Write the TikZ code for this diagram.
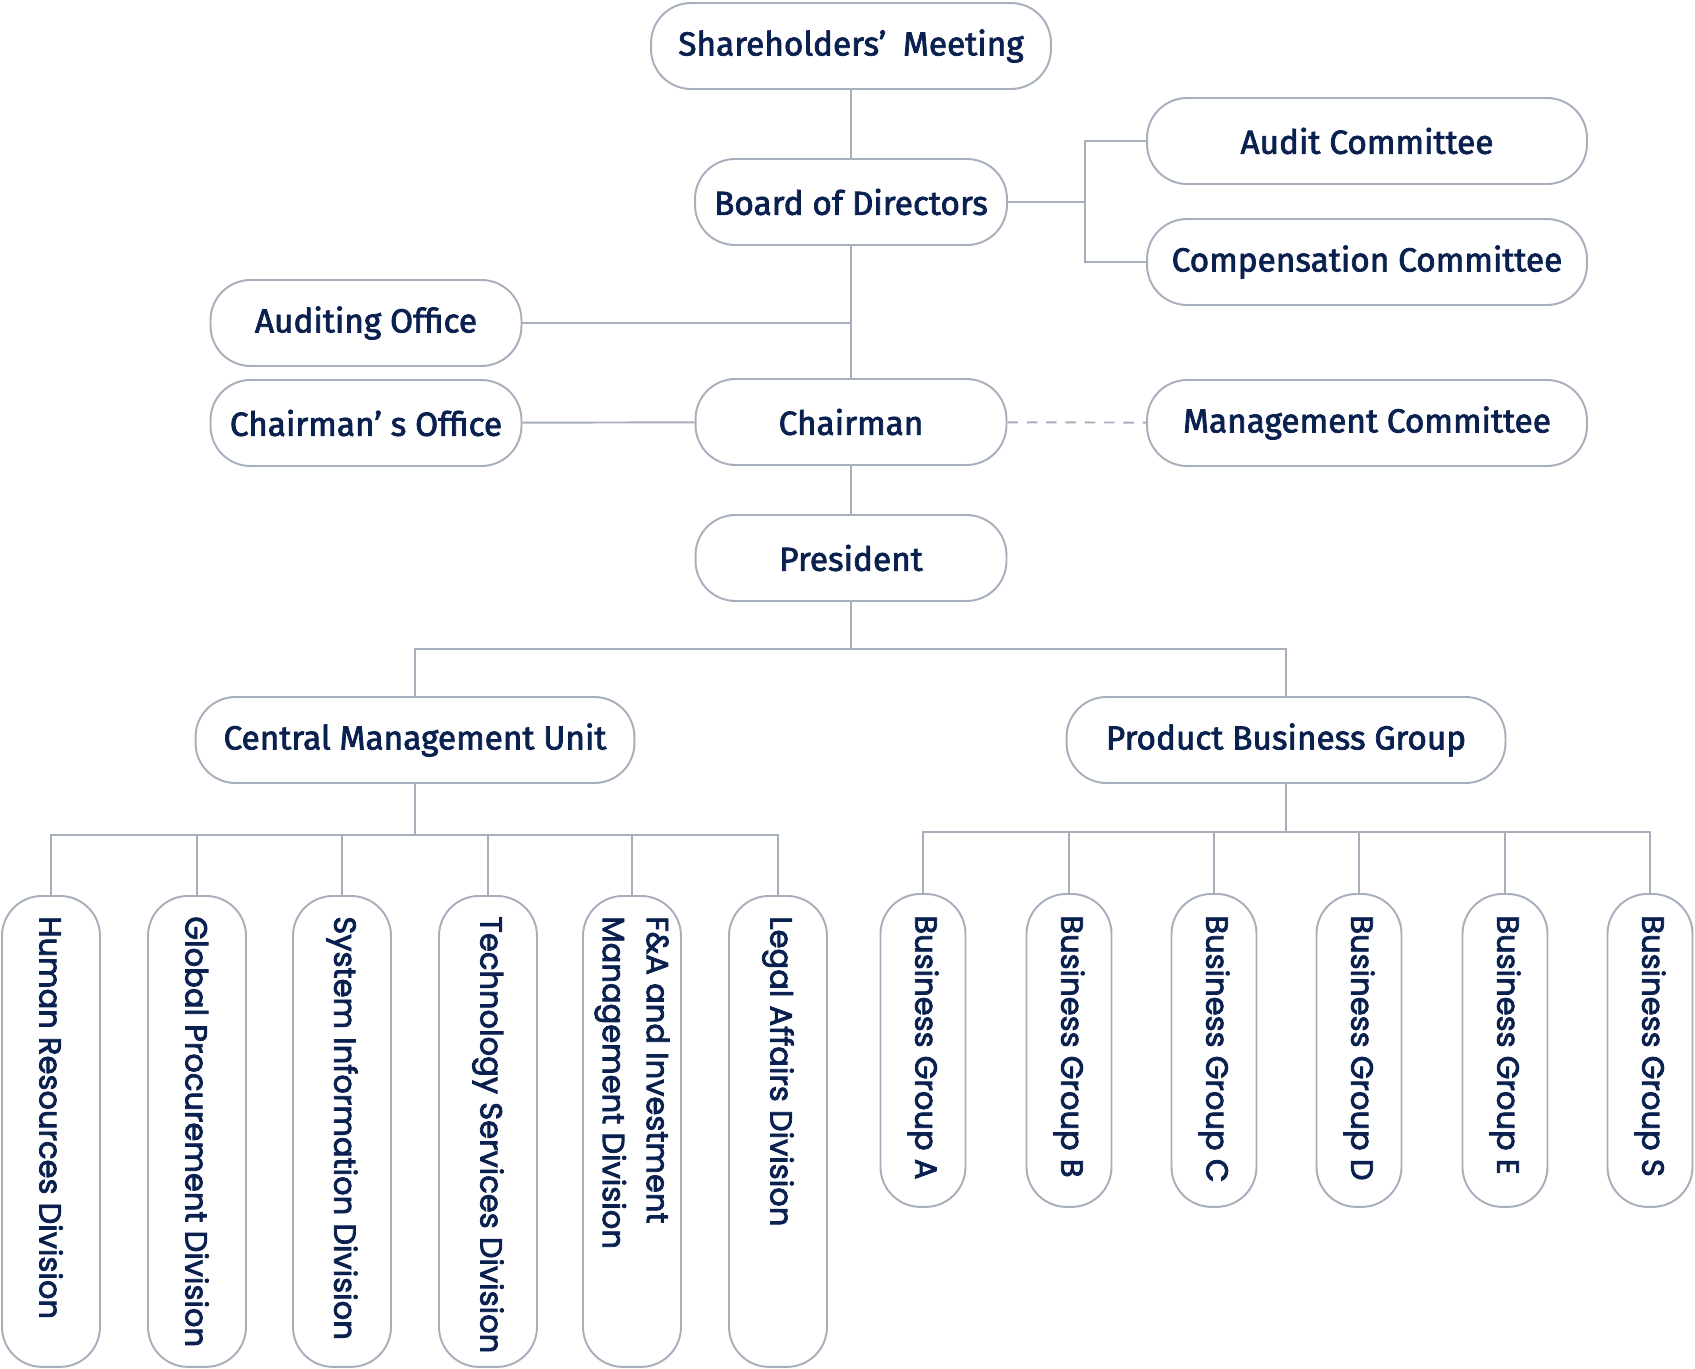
\documentclass[tikz,border=0pt]{standalone}
\usepackage{fontspec}
\setmainfont{Fira Sans}[FakeBold=2.2]
\newfontfamily\vertfont{Poppins}[FakeBold=2.6]
\usetikzlibrary{positioning}
\usetikzlibrary{calc}
\definecolor{navy}{HTML}{0A2150}
\definecolor{linegray}{HTML}{A7AEBC}

\tikzset{
    unitbox/.style={draw=linegray, line width=1.1pt, fill=white, rounded corners=0.8cm, text=navy,
        minimum height=1.72cm, inner sep=0pt, font=\fontsize{19}{22}\selectfont},
    divbox/.style={draw=linegray, line width=1.1pt, fill=white, rounded corners=0.8cm,
        rotate=-90, anchor=west, minimum width=9.42cm, minimum height=1.96cm, inner sep=0pt},
    groupbox/.style={divbox, minimum width=6.26cm, minimum height=1.7cm},
    divtext/.style={rotate=-90, anchor=west, inner sep=0pt, align=left, text=navy,
        font=\vertfont\fontsize{17.4}{25}\selectfont},
    link/.style={draw=linegray, line width=1.1pt},
}

\begin{document}
\begin{tikzpicture}[x=0.02cm, y=-0.02cm]
    \useasboundingbox (0,0) rectangle (1695,1369);

    \node[unitbox, minimum width=8cm] (share) at (851,46) {Shareholders’\hspace{0.5em}Meeting};
    \node[unitbox, minimum width=6.24cm] (board) at (851,202) {Board of Directors};
    \node[unitbox, minimum width=8.8cm] (audit) at (1367,141) {Audit Committee};
    \node[unitbox, minimum width=8.8cm] (comp) at (1367,262) {Compensation Committee};
    \node[unitbox, minimum width=6.22cm] (audoff) at (366,323) {Auditing Office};
    \node[unitbox, minimum width=6.22cm] (choff) at (366,423) {Chairman’ s Office};
    \node[unitbox, minimum width=6.22cm] (chair) at (851,422) {Chairman};
    \node[unitbox, minimum width=8.8cm] (mgmt) at (1367,423) {Management Committee};
    \node[unitbox, minimum width=6.22cm] (pres) at (851,558) {President};
    \node[unitbox, minimum width=8.78cm] (cmu) at (415,740) {Central Management Unit};
    \node[unitbox, minimum width=8.78cm] (pbg) at (1286,740) {Product Business Group};

    \coordinate (brk) at (1085,202);
    \coordinate (pbus) at (851,649);
    \coordinate (cbus) at (415,835);
    \coordinate (gbus) at (1286,832);

    \draw[link] (share) -- (board);
    \draw[link] (board) -- (chair);
    \draw[link] (board) -- (brk);
    \draw[link] (audit.west) -| (brk) |- (comp.west);
    \draw[link] (audoff.east) -- (audoff.east -| board.south);
    \draw[link] (choff) -- (chair);
    \draw[link, dashed, dash pattern=on 6pt off 5pt] (chair) -- (mgmt);
    \draw[link] (chair) -- (pres);
    \draw[link] (pres) -- (pbus);
    \draw[link] (cmu.north) |- (pbus) -| (pbg.north);
    \draw[link] (cmu) -- (cbus);
    \draw[link] (pbg) -- (gbus);

    \foreach \name/\x/\label in {
        hr/51/{Human Resources Division},
        gp/197/{Global Procurement Division},
        si/342/{System Information Division},
        ts/488/{Technology Services Division},
        fa/632/{F\&A and Investment\\Management Division},
        la/778/{Legal Affairs Division}} {
        \node[divbox] (\name) at (\x,895) {};
        \node[divtext] (\name-t) at ([yshift=-0.42cm]\name.west) {\label};
        \draw[link] (\name.west) |- (cbus);
    }

    \foreach \name/\x/\label in {
        bga/923/A, bgb/1069/B, bgc/1214/C, bgd/1359/D, bge/1505/E, bgs/1650/S} {
        \node[groupbox] (\name) at (\x,893) {};
        \node[divtext] (\name-t) at ([yshift=-0.44cm]\name.west) {Business Group \label};
        \draw[link] (\name.west) |- (gbus);
    }
\end{tikzpicture}
\end{document}
